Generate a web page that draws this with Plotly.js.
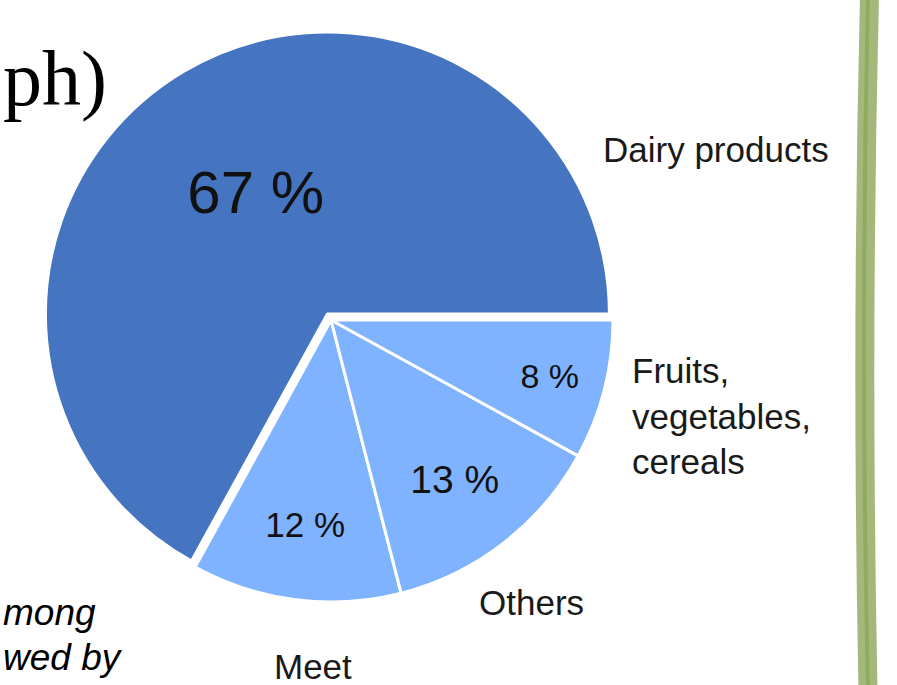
<!DOCTYPE html>
<html>
<head>
<meta charset="utf-8">
<script src="https://cdn.plot.ly/plotly-3.0.1.min.js"></script>
<style>html,body{margin:0;padding:0;background:#fff;}#chart{width:897px;height:685px;}</style>
</head>
<body>
<div id="chart"></div>
<script>
// ---- data ----
const categories = ["Dairy products", "Meet", "Others", "Fruits, vegetables, cereals"];
const shares = [67, 12, 13, 8];
const outsideLabels = ["Dairy products", "Meet", "Others", "Fruits,<br>vegetables,<br>cereals"];
const sliceColors = ["#4574C1", "#80B3FF", "#80B3FF", "#80B3FF"];
const pctSizes = [60, 35, 39, 34];

const W = 897, H = 685;
const px = (x) => x / W;
const py = (y) => 1 - y / H;

// pie geometry (pixels)
const cx = 331, cy = 320, R = 282, pullMain = 0.025;
const Rd = R * (1 + pullMain);
const total = shares.reduce((a, b) => a + b, 0);
// counterclockwise: rotation marks the end of the first slice; first slice starts at 3 o'clock
const rot = 90 - 360 * shares[0] / total;

const trace = {
  type: "pie",
  labels: categories,
  values: shares,
  sort: false,
  direction: "counterclockwise",
  rotation: rot,
  pull: [pullMain, 0, 0, 0],
  marker: { colors: sliceColors, line: { color: "#ffffff", width: 3 } },
  texttemplate: "%{value} %",
  textposition: "inside",
  insidetextorientation: "horizontal",
  textfont: { family: "Liberation Sans, Arial, sans-serif", size: pctSizes, color: "#111111" },
  hoverinfo: "none",
  showlegend: false,
  domain: { x: [px(cx - Rd), px(cx + Rd)], y: [py(cy + Rd), py(cy - Rd)] }
};

// outside label placement (pixels)
const labelPos = [
  { x: 716, y: 149, xanchor: "center", align: "center" },
  { x: 313, y: 666, xanchor: "center", align: "center" },
  { x: 531, y: 602, xanchor: "center", align: "center" },
  { x: 630, y: 416, xanchor: "left", align: "left" }
];

const labelFont = { family: "Liberation Sans, Arial, sans-serif", size: 35, color: "#1a1a1a" };

const annotations = outsideLabels.map((t, i) => ({
  text: t, xref: "paper", yref: "paper",
  x: px(labelPos[i].x), y: py(labelPos[i].y),
  xanchor: labelPos[i].xanchor, yanchor: "middle", align: labelPos[i].align,
  showarrow: false, font: labelFont
}));

// surrounding slide text (partially visible in the reference crop)
annotations.push({
  text: "ph)", xref: "paper", yref: "paper", x: px(1), y: py(78),
  xanchor: "left", yanchor: "middle", showarrow: false,
  font: { family: "Liberation Serif, DejaVu Serif, serif", size: 78, color: "#000000" }
});
annotations.push({
  text: "<i>mong</i>", xref: "paper", yref: "paper", x: px(1), y: py(612),
  xanchor: "left", yanchor: "middle", showarrow: false,
  font: { family: "Liberation Sans, Arial, sans-serif", size: 37, color: "#000000" }
});
annotations.push({
  text: "<i>wed by</i>", xref: "paper", yref: "paper", x: px(1), y: py(657),
  xanchor: "left", yanchor: "middle", showarrow: false,
  font: { family: "Liberation Sans, Arial, sans-serif", size: 37, color: "#000000" }
});

// decorative green border bar on the right
const bandPath = (x0, xc, x1) =>
  "M " + px(x0) + "," + py(-5) + " Q " + px(xc) + "," + py(343) + " " + px(x1) + "," + py(690);
const shapes = [
  { type: "path", xref: "paper", yref: "paper", path: bandPath(869.5, 861, 868),
    line: { color: "#A4B87C", width: 19 } },
  { type: "path", xref: "paper", yref: "paper", path: bandPath(868, 860, 868),
    line: { color: "#90AA5E", width: 4 } }
];

const layout = {
  width: W, height: H,
  margin: { l: 0, r: 0, t: 0, b: 0, pad: 0 },
  paper_bgcolor: "#ffffff",
  plot_bgcolor: "#ffffff",
  annotations: annotations,
  shapes: shapes
};

Plotly.newPlot("chart", [trace], layout, { displayModeBar: false, staticPlot: true });
</script>
</body>
</html>
